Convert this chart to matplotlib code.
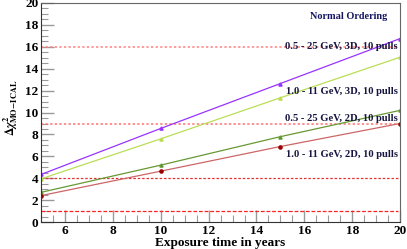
import matplotlib.pyplot as plt
from matplotlib.ticker import MultipleLocator

years = [5, 10, 15, 20]
chi_3d_wide = [4.35, 8.55, 12.65, 16.75]
chi_3d_narrow = [3.95, 7.6, 11.35, 15.05]
chi_2d_wide = [2.72, 5.2, 7.8, 10.2]
chi_2d_narrow = [2.42, 4.65, 6.9, 9.0]
labels = ['0.5 - 25 GeV, 3D, 10 pulls', '1.0 - 11 GeV, 3D, 10 pulls',
          '0.5 - 25 GeV, 2D, 10 pulls', '1.0 - 11 GeV, 2D, 10 pulls']
label_y = [16.0, 11.9, 9.5, 6.2]
ref_levels = [1, 4, 9, 16]

plt.rcParams['font.family'] = ['Liberation Serif', 'DejaVu Serif']
plt.rcParams['font.weight'] = 'bold'
plt.rcParams['mathtext.fontset'] = 'stix'

fig = plt.figure(figsize=(4.07, 2.49), dpi=100)
ax = fig.add_axes([0.101, 0.108, 0.882, 0.88])

# reference lines
ax.hlines(ref_levels[3], 5, 19.9, colors='#ff8080', linestyles=(0, (1.5, 1.5)), lw=1.1)
ax.hlines(ref_levels[2], 5, 19.9, colors='#ff7070', linestyles=(0, (1.5, 1.5)), lw=1.1)
ax.hlines(ref_levels[1], 5, 19.9, colors='#e03030', linestyles=(0, (2, 1.5)), lw=0.9)
ax.hlines(ref_levels[0], 5, 19.9, colors='#ff2020', linestyles=(0, (3, 1.5)), lw=0.9)

ax.plot(years, chi_3d_wide, color='#9933ff', lw=0.9, marker='^', ms=2.3)
ax.plot(years, chi_3d_narrow, color='#bbdd55', lw=0.9, marker='^', ms=2.3, mfc='#cccc33')
ax.plot(years, chi_2d_wide, color='#669933', lw=0.9, marker='^', ms=2.3, mfc='#22aa22')
ax.plot(years, chi_2d_narrow, color='#cc6666', lw=0.9, marker='o', ms=2.3, mfc='#990000', mec='#990000')

for lab, yy in zip(labels, label_y):
    ax.text(19.9, yy, lab, ha='right', va='center', fontsize=7.6, color='#151540', fontweight='bold')
ax.text(19.45, 18.8, 'Normal Ordering', ha='right', va='center', fontsize=7.4,
        color='#151560', fontweight='bold')

ax.set_xlim(5, 20)
ax.set_ylim(0, 20)
ax.xaxis.set_major_locator(MultipleLocator(2))
ax.xaxis.set_minor_locator(MultipleLocator(0.5))
ax.yaxis.set_major_locator(MultipleLocator(2))
ax.yaxis.set_minor_locator(MultipleLocator(0.5))
ax.tick_params(which='both', direction='in', top=False, right=False, color='#999999',
               labelsize=9.5, pad=2)
ax.tick_params(which='major', length=9, width=1)
ax.tick_params(which='minor', length=5, width=0.8)
for lab in ax.get_xticklabels() + ax.get_yticklabels():
    lab.set_fontweight('bold')
for s in ax.spines.values():
    s.set_color('#666666')
ax.spines['left'].set_color('#333333')
ax.spines['bottom'].set_color('#333333')

ax.set_xlabel('Exposure time in years', fontsize=9.5, fontweight='bold', labelpad=0)
ax.set_ylabel(r'$\Delta\chi^2_{\mathbf{MO\!-\!ICAL}}$', fontsize=8.5, labelpad=1)
ax.yaxis.set_label_coords(-0.058, 0.52)

fig.savefig('out.png', dpi=100)
